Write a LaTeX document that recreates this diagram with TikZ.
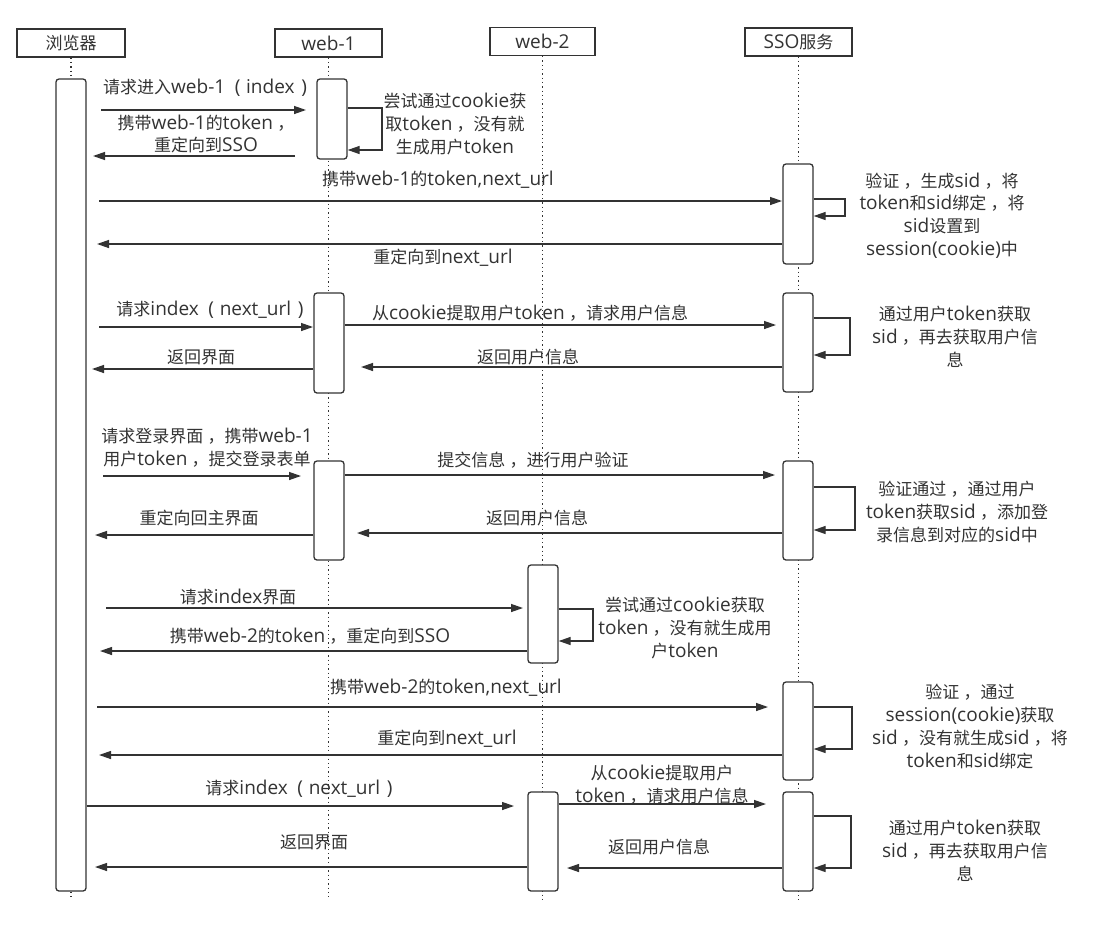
\documentclass[tikz,border=0pt]{standalone}
\usepackage{fontspec}
\setmainfont[Scale=1.12]{Open Sans}
\newfontfamily\latf[Scale=1.12]{Open Sans}
\newfontfamily\cjkf{Noto Sans CJK SC}
\usetikzlibrary{arrows.meta}
\definecolor{ink}{HTML}{333333}
% switch fonts between Latin and CJK characters
\newcount\cc
\newXeTeXintercharclass\CJKcls
\newXeTeXintercharclass\CMcls
\def\setrange#1#2{\cc=#1 \loop\XeTeXcharclass\cc=\CJKcls\relax\ifnum\cc<#2 \advance\cc by 1 \repeat}
\setrange{"3000}{"303F}
\setrange{"4E00}{"9FFF}
\setrange{"FF00}{"FFEF}
\XeTeXcharclass"FF0C=\CMcls
\XeTeXinterchartoks 0 \CJKcls={\cjkf}
\XeTeXinterchartoks 4095 \CJKcls={\cjkf}
\XeTeXinterchartoks \CJKcls 0={\latf}
\XeTeXinterchartoks 4095 0={\latf}
\XeTeXinterchartoks 0 \CMcls={\cjkf\kern0.25em}
\XeTeXinterchartoks 4095 \CMcls={\cjkf}
\XeTeXinterchartoks \CJKcls \CMcls={\kern0.25em}
\XeTeXinterchartoks \CMcls 0={\latf}
\XeTeXinterchartokenstate=1
\newcommand\lp{\hspace{0.5em}(\hspace{0.3em}}
\newcommand\rp{\hspace{0.35em})}
\begin{document}
\begin{tikzpicture}[x=1pt,y=-1pt,
  head/.style={draw=ink, line width=1.3pt, minimum height=28pt, inner sep=0pt, font=\fontsize{17}{20}\selectfont, text=ink, fill=white},
  bar/.style={draw=ink, line width=1.3pt, rounded corners=3pt, fill=white, minimum width=30pt, inner sep=0pt},
  life/.style={draw=ink, line width=1.3pt, dash pattern=on 1.3pt off 3pt},
  msg/.style={draw=ink, line width=1.3pt, -{Triangle[length=12pt,width=8pt]}},
  lbl/.style={text=ink, font=\fontsize{17}{22.8}\selectfont, align=center, inner sep=0pt}]
\useasboundingbox[fill=white] (0,0) rectangle (1094,937);

% headers
\node[head, minimum width=108pt] (h0) at (71,43) {浏览器};
\node[head, minimum width=107pt] (h1) at (328.5,43) {web-1};
\node[head, minimum width=105pt] (h2) at (542.5,41.5) {web-2};
\node[head, minimum width=107pt] (h3) at (798.5,42) {SSO服务};

% lifeline ends
\coordinate (e0) at (71,900);
\coordinate (e1) at (328.5,900);
\coordinate (e2) at (542.5,900);
\coordinate (e3) at (798.5,900);
\draw[life] (h0.south) -- (e0);
\draw[life] (h1.south) -- (e1);
\draw[life] (h2.south) -- (e2);
\draw[life] (h3.south) -- (e3);

% activation bars
\node[bar, minimum height=812pt] (b0) at (71,485) {};
\node[bar, minimum height=80pt] (w1a) at (332,119) {};
\node[bar, minimum height=100pt] (w1b) at (329,343) {};
\node[bar, minimum height=99pt] (w1c) at (329,510.5) {};
\node[bar, minimum height=98pt] (w2a) at (543,614) {};
\node[bar, minimum height=99pt] (w2b) at (543,841.5) {};
\node[bar, minimum height=100pt] (s1) at (798,214) {};
\node[bar, minimum height=99pt] (s2) at (798,342.5) {};
\node[bar, minimum height=99pt] (s3) at (798,510.5) {};
\node[bar, minimum height=98pt] (s4) at (798,731) {};
\node[bar, minimum height=99pt] (s5) at (798,841.5) {};

% ---- round 1
\draw[msg] (101,110) -- (306,110);
\node[lbl] (l1) at (205,88) {请求进入web-1\lp index\rp};
\draw[msg] (295,156) -- (93,156);
\node[lbl] (l2) at (206,134) {携带web-1的token，\\重定向到SSO};
\draw[msg] (w1a.east |- 0,108) -| (382,150) -- (w1a.east |- 0,150);
\node[lbl] (l3) at (455,124) {尝试通过cookie获\\取token，没有就\\生成用户token};

\draw[msg] (99,201) -- (782,201);
\node[lbl] (l4) at (438,180) {携带web-1的token,next\_url};
\draw[msg] (s1.east |- 0,199) -| (845,216) -- (s1.east |- 0,216);
\node[lbl] (l5) at (942,215.5) {验证，生成sid，将\\token和sid绑定，将\\sid设置到\\session(cookie)中};
\draw[msg] (s1.west |- 0,244) -- (97,244);
\node[lbl] (l6) at (443,258) {重定向到next\_url};

% ---- round 2
\draw[msg] (99,327) -- (313,327);
\node[lbl] (l7) at (210,310) {请求index\lp next\_url\rp};
\draw[msg] (w1b.east |- 0,325) -- (776,325);
\node[lbl] (l8) at (530,313) {从cookie提取用户token，请求用户信息};
\draw[msg] (s2.east |- 0,318) -| (850,355) -- (s2.east |- 0,355);
\node[lbl] (l9) at (955,337) {通过用户token获取\\sid，再去获取用户信\\息};
\draw[msg] (s2.west |- 0,367) -- (361,367);
\node[lbl] (l10) at (528,357) {返回用户信息};
\draw[msg] (w1b.west |- 0,369) -- (92,369);
\node[lbl] (l11) at (201,357) {返回界面};

% ---- round 3
\draw[msg] (103,476) -- (301,476);
\node[lbl] (l12) at (207,448) {请求登录界面，携带web-1\\用户token，提交登录表单};
\draw[msg] (w1c.east |- 0,475) -- (775,475);
\node[lbl] (l13) at (533,460) {提交信息，进行用户验证};
\draw[msg] (s3.east |- 0,487) -| (855,530) -- (s3.east |- 0,530);
\node[lbl] (l14) at (957,512) {验证通过，通过用户\\token获取sid，添加登\\录信息到对应的sid中};
\draw[msg] (s3.west |- 0,533) -- (357,533);
\node[lbl] (l15) at (537,518) {返回用户信息};
\draw[msg] (w1c.west |- 0,535) -- (95,535);
\node[lbl] (l16) at (199,518) {重定向回主界面};

% ---- round 4
\draw[msg] (106,608) -- (523,608);
\node[lbl] (l17) at (238,597) {请求index界面};
\draw[msg] (w2a.east |- 0,609) -| (593,641) -- (w2a.east |- 0,641);
\node[lbl] (l18) at (685,628) {尝试通过cookie获取\\token，没有就生成用\\户token};
\draw[msg] (w2a.west |- 0,651) -- (100,651);
\node[lbl] (l19) at (310,636) {携带web-2的token，重定向到SSO};

\draw[msg] (97,707) -- (768,707);
\node[lbl] (l20) at (446,688) {携带web-2的token,next\_url};
\draw[msg] (s4.east |- 0,707) -| (852,749) -- (s4.east |- 0,749);
\node[lbl] (l21) at (970,726.5) {验证，通过\\session(cookie)获取\\sid，没有就生成sid，将\\token和sid绑定};
\draw[msg] (s4.west |- 0,755) -- (99,755);
\node[lbl] (l22) at (447,739) {重定向到next\_url};

% ---- round 5
\draw[msg] (b0.east |- 0,806) -- (514,806);
\node[lbl] (l23) at (299,789) {请求index\lp next\_url\rp};
\draw[msg] (w2b.east |- 0,804) -- (766,804);
\node[lbl] (l24) at (662,784.5) {从cookie提取用户\\token，请求用户信息};
\draw[msg] (s5.east |- 0,816) -| (851,868) -- (s5.east |- 0,868);
\node[lbl] (l25) at (965,851) {通过用户token获取\\sid，再去获取用户信\\息};
\draw[msg] (s5.west |- 0,868) -- (567,868);
\node[lbl] (l26) at (659,847) {返回用户信息};
\draw[msg] (w2b.west |- 0,867) -- (95,867);
\node[lbl] (l27) at (314,842) {返回界面};
\end{tikzpicture}
\end{document}
